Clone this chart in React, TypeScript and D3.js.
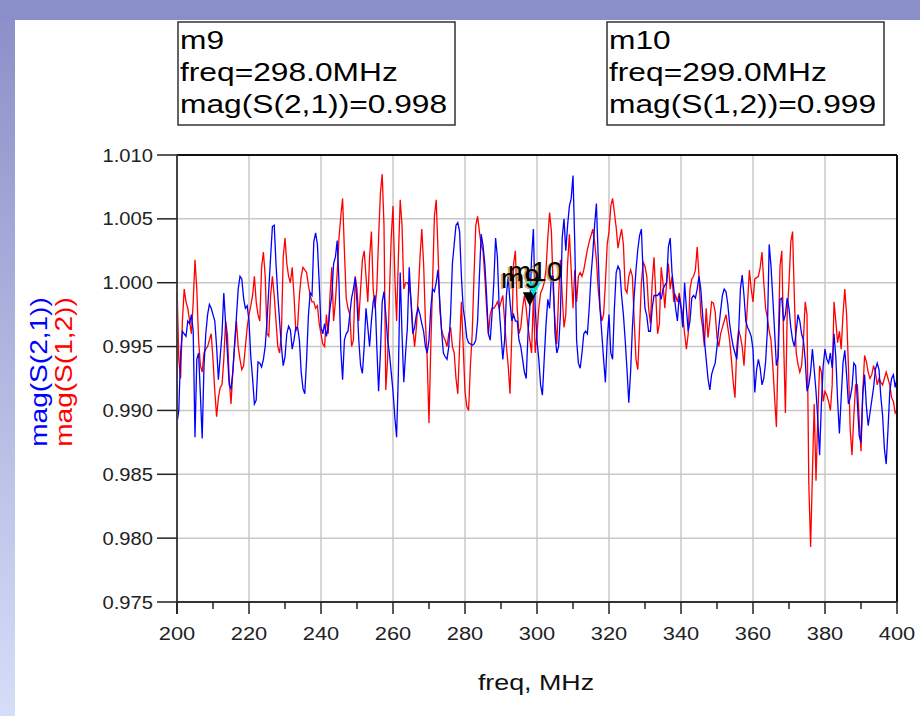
import React from "react";
import * as d3 from "d3";

// sweep: 200 MHz .. 400 MHz, 0.5 MHz step
const FREQ_START = 200;
const FREQ_STEP = 0.5;

const S21: number[] = [
  0.989, 0.990, 0.9945, 0.9962, 0.996, 0.9958, 0.997, 0.9968, 0.9975, 0.9962,
  0.9879, 0.994, 0.9945, 0.9912, 0.9878, 0.9935, 0.996, 0.9975, 0.9983, 0.998,
  0.9975, 0.997, 0.995, 0.9924, 0.9942, 0.996, 0.9992, 0.9968, 0.9945, 0.992,
  0.9917, 0.993, 0.9952, 0.9973, 0.9995, 1.0005, 1.0003, 0.9988, 0.998, 0.9982,
  0.997, 0.9942, 0.9925, 0.9905, 0.9908, 0.9938, 0.9937, 0.9934, 0.994, 0.995,
  0.997, 0.9995, 1.002, 1.0044, 1.0045, 1.0015, 0.999, 0.997, 0.995, 0.9935,
  0.9942, 0.996, 0.9966, 0.9963, 0.9948, 0.9955, 0.9965, 0.9965, 0.9955, 0.993,
  0.9917, 0.9913, 0.994, 0.9974, 0.9992, 0.999, 1.0032, 1.0039, 1.003, 1.0,
  0.9965, 0.996, 0.9968, 0.9958, 0.9965, 0.998, 0.999, 1.0015, 1.002, 1.0033,
  1.0, 0.9948, 0.9924, 0.9955, 0.996, 0.9962, 0.9975, 0.9988, 0.9995, 1.0004,
  0.9985, 0.9955, 0.9935, 0.9929, 0.995, 0.998, 0.9965, 0.995, 0.997, 0.9985,
  0.999, 0.995, 0.9915, 0.9945, 0.9985, 0.9993, 0.9975, 0.9955, 0.9945, 0.993,
  0.9915, 0.9895, 0.9879, 0.993, 1.0008, 0.996, 0.9922, 0.9945, 0.9965, 1.0012,
  0.9985, 0.996, 0.9965, 0.9975, 0.998, 0.9975, 0.9968, 0.9962, 0.995, 0.9945,
  0.9955, 0.998, 0.9995, 0.9993, 1.0, 1.001, 0.9985, 0.9962, 0.9945, 0.9942,
  0.994, 0.995, 0.9975, 1.0015, 1.003, 1.0045, 1.0047, 1.004, 1.0005, 0.998,
  0.997, 0.9957, 0.9953, 0.9952, 0.9951, 0.9952, 0.9955, 0.997, 1.0005, 1.0038,
  1.0029, 1.0015, 0.999, 0.996, 0.9955, 0.9975, 1.0, 1.0035, 1.002, 0.998,
  0.996, 0.994, 0.9955, 0.999, 1.0005, 0.9985, 0.997, 0.9975, 0.997, 0.997,
  0.9955, 0.995, 0.994, 0.993, 0.9925, 0.996, 0.998, 1.002, 1.0042, 0.998,
  0.9955, 0.994, 0.992, 0.9912, 0.994, 0.9967, 0.9987, 0.998, 1.0005, 1.0005,
  0.996, 0.9945, 0.995, 0.9975, 1.0035, 1.005, 1.0025, 1.0045, 1.006, 1.0066,
  1.0084, 1.003, 0.9955, 0.9937, 0.9933, 0.9945, 0.996, 0.9962, 0.996, 0.998,
  1.0005, 1.0023, 1.0045, 1.0062, 1.002, 0.998, 0.996, 0.994, 0.9922, 0.9955,
  0.9975, 0.9945, 0.994, 0.998, 1.0008, 1.0013, 1.001, 0.999, 0.9975, 0.9955,
  0.9932, 0.9906, 0.993, 0.9965, 0.999, 1.001, 1.0026, 1.0037, 1.0042, 1.0005,
  0.998, 0.9974, 0.9962, 0.9962, 0.998, 0.999, 0.999, 0.999, 0.9992, 0.9987,
  0.9995, 0.9998, 1.0, 1.0028, 1.0035, 1.0008, 0.9995, 0.998, 0.997, 0.999,
  0.998, 0.9965, 1.0, 0.998, 0.9962, 0.997, 0.9988, 0.999, 0.9988, 0.9995,
  1.0005, 0.9995, 0.9975, 0.9955, 0.994, 0.9925, 0.9916, 0.9928, 0.9933, 0.9937,
  0.995, 0.9965, 0.9978, 0.999, 0.9995, 0.9993, 0.9983, 0.9968, 0.9958, 0.995,
  0.9945, 0.994, 0.996, 0.9995, 1.0006, 0.999, 0.997, 0.9965, 0.9962, 0.9958,
  0.9948, 0.9914, 0.9932, 0.994, 0.9933, 0.992, 0.9925, 0.9938, 0.9963, 1.003,
  1.0013, 0.9988, 0.9962, 0.9935, 0.9942, 0.9987, 0.9988, 0.997, 0.9975, 0.9988,
  0.998, 0.9965, 0.9955, 0.995, 0.9962, 0.9975, 0.997, 0.996, 0.9955, 0.994,
  0.9915, 0.992, 0.993, 0.9948, 0.9932, 0.9915, 0.9893, 0.9865, 0.9905, 0.9935,
  0.9948, 0.994, 0.9937, 0.9945, 0.9933, 0.996, 0.9942, 0.9908, 0.9882, 0.991,
  0.9937, 0.9947, 0.9928, 0.9905, 0.991, 0.9918, 0.9937, 0.9935, 0.9905, 0.988,
  0.9875, 0.9913, 0.9928, 0.9903, 0.9888, 0.9898, 0.9908, 0.9918, 0.9932, 0.9937,
  0.9932, 0.9911, 0.9896, 0.987, 0.9858, 0.9885, 0.9915, 0.9925, 0.9928, 0.9918,
  0.9925,
];

const S12: number[] = [
  0.9998, 0.994, 0.9925, 0.997, 0.9995, 0.9985, 0.998, 0.997, 0.996, 0.9985,
  1.0018, 0.9995, 0.9955, 0.9935, 0.993, 0.9945, 0.9948, 0.995, 0.9955, 0.996,
  0.994, 0.9915, 0.9895, 0.991, 0.9918, 0.992, 0.994, 0.997, 0.996, 0.9925,
  0.9905, 0.993, 0.995, 0.997, 0.995, 0.994, 0.9932, 0.9935, 0.995, 0.9965,
  0.9975, 0.9982, 0.999, 1.0005, 0.9985, 0.9975, 0.997, 1.0012, 1.0024, 1.0005,
  0.996, 0.9958, 0.999, 1.0005, 0.999, 0.997, 0.995, 0.9945, 0.996, 1.002,
  1.0035, 1.0015, 1.0005, 1.0, 1.0012, 0.999, 0.9962, 0.9966, 0.999, 1.0005,
  1.0012, 1.001, 1.0008, 0.9998, 0.999, 0.9985, 0.9985, 0.998, 0.9982, 0.9968,
  0.996, 0.9952, 0.995, 0.9975, 0.996, 0.999, 1.0012, 0.997, 0.9985, 1.0008,
  1.0035, 1.0052, 1.0066, 1.0025, 0.9988, 0.998, 0.9975, 0.995, 0.9955, 1.0005,
  0.9995, 0.997, 0.9995, 1.0018, 1.0025, 1.0005, 0.9985, 1.002, 1.004, 0.9995,
  0.998, 0.9995, 1.0035, 1.007, 1.0085, 1.0045, 0.9916, 0.994, 0.999, 1.0035,
  1.006, 1.0005, 0.997, 1.002, 1.0065, 1.0045, 0.9995, 1.0, 1.0, 0.9997,
  0.9987, 0.9965, 0.995, 0.9965, 0.999, 1.002, 1.0042, 1.0015, 0.997, 0.994,
  0.989, 0.995, 1.0, 1.0052, 1.0065, 1.0025, 0.998, 0.9963, 0.9958, 0.9955,
  0.995, 0.996, 0.9965, 0.995, 0.9945, 0.9925, 0.9913, 0.995, 0.9985, 0.995,
  0.9915, 0.9903, 0.99, 0.9935, 0.996, 1.0005, 1.0045, 1.0052, 1.004, 1.003,
  1.0025, 1.0005, 0.998, 0.996, 0.9975, 0.998, 0.998, 0.9982, 0.9985, 0.998,
  0.9985, 0.999, 0.997, 0.995, 0.9935, 0.9913, 0.996, 1.0015, 1.0025, 0.998,
  0.996, 0.9965, 0.998, 0.999, 0.998, 0.9965, 0.9955, 0.9945, 0.999, 0.9945,
  0.996, 0.998, 0.9992, 0.9995, 1.0, 1.001, 1.0035, 1.0055, 1.004, 0.9995,
  0.997, 0.9952, 0.999, 1.0018, 0.999, 0.9965, 0.9975, 1.0015, 1.0038, 1.001,
  0.998, 1.001, 0.9985, 1.0005, 1.0008, 1.0005, 1.001, 1.0018, 1.0026, 1.0032,
  1.0037, 1.0042, 1.0032, 1.0018, 0.9995, 0.998, 0.997, 0.9975, 1.0, 1.003,
  1.004, 1.006, 1.0066, 1.0055, 1.0043, 1.0027, 1.0035, 1.0042, 1.003, 0.9995,
  0.9992, 1.0005, 1.001, 1.0005, 0.997, 0.994, 0.9932, 0.9965, 1.0, 1.0016,
  1.0013, 1.0005, 0.998, 0.9968, 1.0, 1.002, 0.999, 0.996, 0.9968, 1.0012,
  1.0, 0.998, 1.0, 1.0015, 0.9995, 1.0005, 0.9985, 0.999, 0.9985, 0.9992,
  0.9982, 0.9975, 0.996, 0.9948, 0.996, 0.9995, 1.0003, 1.0005, 1.001, 1.0028,
  1.0005, 0.9975, 0.9965, 0.995, 0.998, 0.9957, 0.997, 0.9985, 0.9984, 0.9977,
  0.9957, 0.995, 0.996, 0.9965, 0.997, 0.9975, 0.9965, 0.9955, 0.994, 0.9922,
  0.991, 0.995, 0.9963, 0.9958, 0.995, 0.9935, 0.996, 0.9985, 1.001, 0.9995,
  0.9985, 1.0003, 1.0004, 1.0005, 1.0012, 1.0024, 1.0, 0.998, 0.9972, 0.9962,
  0.9955, 0.9935, 0.991, 0.9887, 0.995, 1.0013, 1.0025, 0.9955, 0.9898, 0.9975,
  1.0, 1.0032, 1.004, 0.9987, 0.9945, 0.9936, 0.993, 0.9935, 0.9955, 0.9985,
  0.9975, 0.9843, 0.9793, 0.985, 0.9905, 0.9845, 0.9895, 0.9935, 0.993, 0.9907,
  0.9915, 0.9912, 0.9907, 0.99, 0.992, 0.9985, 0.997, 0.9953, 0.9962, 0.9948,
  0.9975, 0.9995, 0.9975, 0.9935, 0.9885, 0.9865, 0.9895, 0.992, 0.992, 0.9893,
  0.9868, 0.9915, 0.9943, 0.9938, 0.993, 0.9925, 0.9928, 0.9935, 0.993, 0.992,
  0.9925, 0.9922, 0.992, 0.9925, 0.993, 0.9925, 0.992, 0.991, 0.9907, 0.9898,
  0.99,
];

const X_TICKS = [200, 220, 240, 260, 280, 300, 320, 340, 360, 380, 400];
const X_MINOR = [210, 230, 250, 270, 290, 310, 330, 350, 370, 390];
const Y_TICKS = [1.01, 1.005, 1.0, 0.995, 0.99, 0.985, 0.98, 0.975];

const M9 = { name: "m9", freq: 298.0, label: "mag(S(2,1))", value: 0.998 };
const M10 = { name: "m10", freq: 299.0, label: "mag(S(1,2))", value: 0.999 };

const FONT = "'Liberation Sans', Arial, sans-serif";

function T(props: {
  x: number; y: number; size: number; sx?: number; anchor?: string;
  rotate?: number; fill?: string; children: React.ReactNode; opacity?: number;
}) {
  const { x, y, size, sx = 1, anchor = "start", rotate = 0, fill = "#000", children, opacity } = props;
  return (
    <text
      transform={`translate(${x},${y}) rotate(${rotate}) scale(${sx},1)`}
      fontSize={size}
      fontFamily={FONT}
      textAnchor={anchor as any}
      fill={fill}
      opacity={opacity}
    >
      {children}
    </text>
  );
}

export default function App() {
  const W = 920, H = 716;
  const X0 = 177, X1 = 897, Y0 = 155, Y1 = 602;
  const x = d3.scaleLinear().domain([200, 400]).range([X0, X1]);
  const y = d3.scaleLinear().domain([0.975, 1.01]).range([Y1, Y0]);

  const line = d3
    .line<number>()
    .x((_, i) => x(FREQ_START + i * FREQ_STEP))
    .y((d) => y(d));

  const tri = (cx: number, cy: number, w: number, h: number) =>
    `M${cx},${cy} L${cx - w / 2},${cy - h} L${cx + w / 2},${cy - h} Z`;

  const box = (bx: number, m: typeof M9) => (
    <g>
      <rect x={bx} y={22} width={277} height={103} fill="#fff" stroke="#333" strokeWidth={1.5} />
      <T x={bx + 2} y={49} size={26} sx={1.22}>{m.name}</T>
      <T x={bx + 2} y={81} size={26} sx={1.22}>{`freq=${m.freq.toFixed(1)}MHz`}</T>
      <T x={bx + 2} y={113} size={26} sx={1.22}>{`${m.label}=${m.value.toFixed(3)}`}</T>
    </g>
  );

  return (
    <svg width={W} height={H} style={{ position: "absolute", left: 0, top: 0 }}>
      <defs>
        <linearGradient id="lband" x1="0" y1="0" x2="0" y2="1">
          <stop offset="0" stopColor="#8a8ec8" />
          <stop offset="1" stopColor="#d4def8" />
        </linearGradient>
        <clipPath id="plotclip">
          <rect x={X0} y={Y0} width={X1 - X0} height={Y1 - Y0} />
        </clipPath>
      </defs>
      <rect x={0} y={0} width={W} height={H} fill="#fff" />
      <rect x={0} y={0} width={15} height={H} fill="url(#lband)" />
      <rect x={0} y={0} width={W} height={20} fill="#8b8fc9" />

      {box(178, M9)}
      {box(607, M10)}

      {/* grid */}
      {X_TICKS.map((t) => (
        <line key={"gx" + t} x1={x(t)} x2={x(t)} y1={Y0} y2={Y1} stroke="#c8c8c8" strokeWidth={1.5} />
      ))}
      {Y_TICKS.map((t) => (
        <line key={"gy" + t} x1={X0} x2={X1} y1={y(t)} y2={y(t)} stroke="#c8c8c8" strokeWidth={1.5} />
      ))}

      {/* traces */}
      <g clipPath="url(#plotclip)">
        <path d={line(S12) || ""} fill="none" stroke="#ff0000" strokeWidth={1.3} />
        <path d={line(S21) || ""} fill="none" stroke="#0000ff" strokeWidth={1.3} />
      </g>

      {/* frame */}
      <line x1={X0} x2={X1} y1={Y0} y2={Y0} stroke="#111" strokeWidth={2} />
      <line x1={X1} x2={X1} y1={Y0} y2={Y1} stroke="#111" strokeWidth={2} />
      <line x1={X0} x2={X0} y1={Y0} y2={Y1 + 12} stroke="#444" strokeWidth={2} />
      <line x1={X0} x2={X1} y1={Y1} y2={Y1} stroke="#333" strokeWidth={2} />

      {/* y ticks */}
      {Y_TICKS.map((t) => (
        <g key={"yt" + t}>
          <line x1={X0 - 20} x2={X0} y1={y(t)} y2={y(t)} stroke="#222" strokeWidth={1.5} />
          <T x={153} y={y(t) + 6.5} size={18} sx={1.12} anchor="end" fill="#222">{d3.format(".3f")(t)}</T>
        </g>
      ))}
      {/* x ticks */}
      {X_TICKS.map((t) => (
        <g key={"xt" + t}>
          <line x1={x(t)} x2={x(t)} y1={Y1} y2={Y1 + 12} stroke="#222" strokeWidth={1.5} />
          <T x={x(t)} y={640} size={19} sx={1.15} anchor="middle" fill="#222">{String(t)}</T>
        </g>
      ))}
      {X_MINOR.map((t) => (
        <line key={"xm" + t} x1={x(t)} x2={x(t)} y1={Y1} y2={Y1 + 7} stroke="#222" strokeWidth={1.5} />
      ))}

      <T x={536} y={690} size={22} sx={1.22} anchor="middle" fill="#111">freq, MHz</T>
      <T x={47} y={372} size={23} sx={1.22} anchor="middle" rotate={-90} fill="#0000ff">mag(S(2,1))</T>
      <T x={72} y={372} size={23} sx={1.22} anchor="middle" rotate={-90} fill="#ff0000">mag(S(1,2))</T>

      {/* markers */}
      <path d={tri(x(M9.freq), y(M9.value) - 2, 14, 14)} fill="#000" />
      <path d={tri(x(M10.freq), y(M10.value), 15, 13)} fill="#00e0d0" />
      <T x={499} y={289} size={28} sx={1.0} fill="#c09040" opacity={0.7}>m9</T>
      <T x={506} y={282} size={28} sx={1.0} fill="#c09040" opacity={0.7}>m10</T>
      <T x={501} y={288} size={28} sx={1.0}>m9</T>
      <T x={508} y={281} size={28} sx={1.0}>m10</T>
    </svg>
  );
}
